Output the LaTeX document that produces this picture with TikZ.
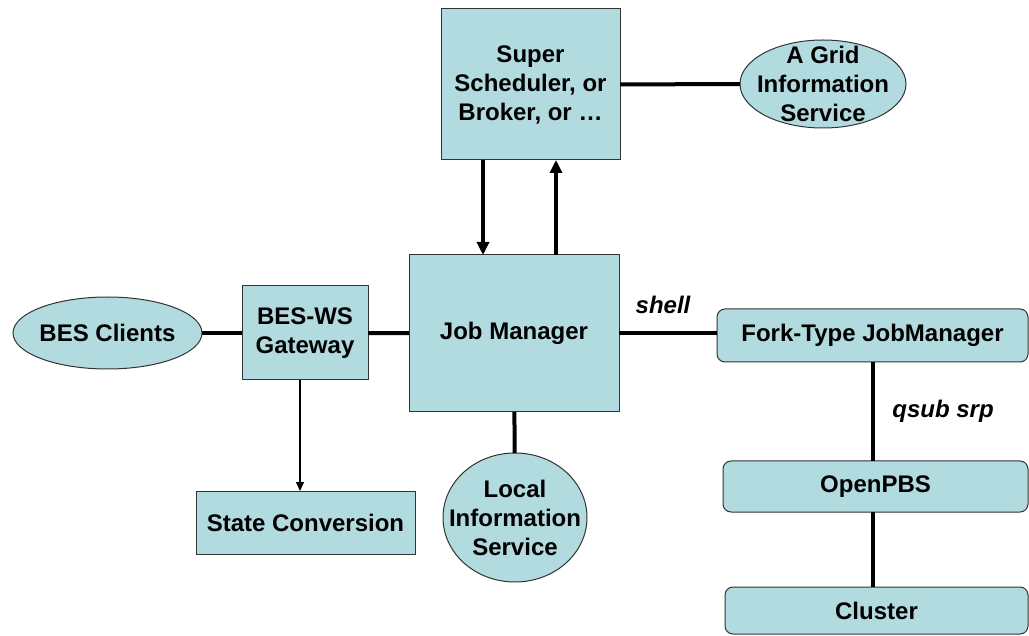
\documentclass[tikz,border=0pt]{standalone}
\usepackage{fontspec}
\setmainfont{Liberation Sans}
\usetikzlibrary{arrows.meta,shapes.geometric,calc}
\definecolor{boxfill}{RGB}{178,219,224}
\tikzset{
	box/.style={draw=black!80, line width=1pt, fill=boxfill, inner sep=0pt, outer sep=0pt,
			align=center, font=\fontsize{24}{29}\selectfont\bfseries},
	oval/.style={box, ellipse},
	pill/.style={box, rounded corners=8pt},
	ovaltext/.style={align=center, inner sep=0pt, font=\fontsize{24}{29}\selectfont\bfseries},
	edgetext/.style={font=\fontsize{24}{29}\selectfont\bfseries\itshape}
}

\begin{document}
\begin{tikzpicture}[x=1pt, y=-1pt, line cap=butt, line join=round]
    \useasboundingbox (0,0) rectangle (1029,636);

    \node[box, minimum width=179pt, minimum height=151pt] (super) at (530.5,84.5) {Super\\Scheduler, or\\Broker, or \dots};
    \node[oval, minimum width=166pt, minimum height=88pt,
          label={[ovaltext]center:A Grid\\Information\\Service}] (grid) at (823,84) {};
    \node[box, minimum width=210pt, minimum height=157pt] (jm) at (514,333.5) {Job Manager};
    \node[box, minimum width=126pt, minimum height=94pt] (gw) at (305,333) {BES-WS\\Gateway};
    \node[oval, minimum width=189pt, minimum height=72pt,
          label={[ovaltext]center:BES Clients}] (bes) at (107.5,333) {};
    \node[box, minimum width=219pt, minimum height=63pt] (state) at (305.5,522.5) {State Conversion};
    \node[oval, minimum width=144pt, minimum height=129pt,
          label={[ovaltext]center:Local\\Information\\Service}] (lis) at (515,517.5) {};
    \node[pill, minimum width=311pt, minimum height=53pt] (fork) at (872.5,335.5) {Fork-Type JobManager};
    \node[pill, minimum width=305pt, minimum height=51pt] (pbs) at (875.5,486.5) {OpenPBS};
    \node[pill, minimum width=303pt, minimum height=47pt] (cluster) at (876.5,610.5) {Cluster};

    \tikzset{link/.style={line width=4pt},
             arr/.style={link, -{Triangle[length=13pt, width=12pt]}},
             thin/.style={line width=1.2pt, -{Triangle[length=9pt, width=8pt]}}}

    \coordinate (dn) at (483,0);
    \coordinate (up) at (556,0);
    \coordinate (pipe) at (873,0);

    \draw[arr] (super.south -| dn) -- (jm.north -| dn);
    \draw[arr] (jm.north -| up) -- (super.south -| up);
    \draw[link] (super) -- (grid);

    \draw[link] (bes) -- (gw);
    \draw[link] (gw) -- (jm);
    \draw[thin] ([xshift=-5pt]gw.south) -- ([xshift=-5pt]gw.south |- state.north);
    \draw[link] (jm) -- (lis);

    \draw[link] (jm.east) -- node[edgetext, midway, above=14pt, xshift=-5pt] {shell} (jm.east -| fork.west);
    \draw[link] (fork.south -| pipe) -- node[edgetext, midway, right=14pt] {qsub srp} (pbs.north -| pipe);
    \draw[link] (pbs.south -| pipe) -- (cluster.north -| pipe);
\end{tikzpicture}
\end{document}
